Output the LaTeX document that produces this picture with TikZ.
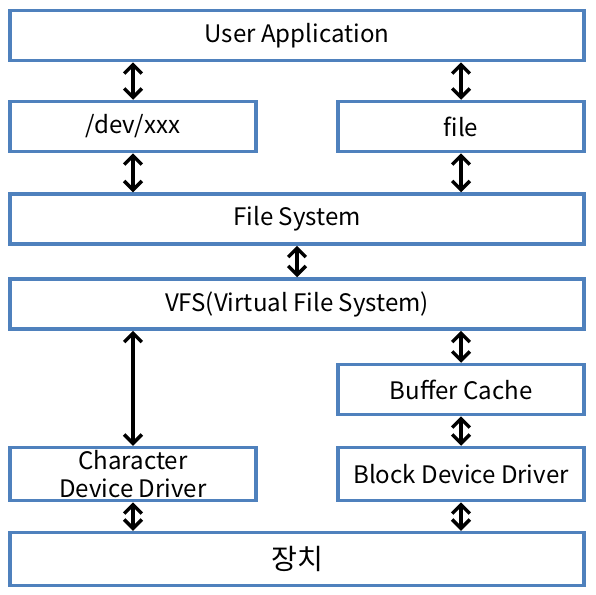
\documentclass[tikz,border=0pt]{standalone}
\usepackage{fontspec}
\setmainfont{Noto Sans CJK KR}
\usepackage{tikz}
\usetikzlibrary{arrows.meta,positioning}
\definecolor{boxblue}{HTML}{4F81BD}
\tikzset{
  layer/.style={draw=boxblue, line width=2pt, minimum height=1.0cm, inner sep=0pt, align=center, font=\fontsize{13.7}{16}\selectfont},
  wide/.style={layer, minimum width=11.48cm},
  half/.style={layer, minimum width=4.92cm},
  dbl/.style={{Straight Barb[length=5pt,width=10pt,line width=2pt]}-{Straight Barb[length=5pt,width=10pt,line width=2pt]}, line width=2pt, black}
}
\begin{document}
\begin{tikzpicture}
\useasboundingbox (0cm,0cm) rectangle (11.92cm,-11.88cm);
\node[wide] (app) at (5.94cm,-0.71cm) {User Application};
\node[half] (dev) at (2.66cm,-2.53cm) {/dev/xxx};
\node[half] (file) at (9.22cm,-2.53cm) {file};
\node[wide] (fs) at (5.94cm,-4.38cm) {File System};
\node[wide] (vfs) at (5.94cm,-6.08cm) {VFS(Virtual File System)};
\node[half] (cache) at (9.22cm,-7.79cm) {Buffer Cache};
\node[half, minimum height=1.06cm] (chr) at (2.66cm,-9.48cm) {Character\\Device Driver};
\node[half, minimum height=1.06cm] (blk) at (9.22cm,-9.48cm) {Block Device Driver};
\node[wide, minimum height=1.06cm] (hw) at (5.94cm,-11.18cm) {\fontsize{16}{18}\selectfont 장치};
\draw[dbl] (dev.north) -- (dev.north |- app.south);
\draw[dbl] (file.north) -- (file.north |- app.south);
\draw[dbl] (dev.south) -- (dev.south |- fs.north);
\draw[dbl] (file.south) -- (file.south |- fs.north);
\draw[dbl] (fs.south) -- (vfs.north);
\draw[dbl] (chr.north) -- (chr.north |- vfs.south);
\draw[dbl] (cache.north) -- (cache.north |- vfs.south);
\draw[dbl] (cache.south) -- (blk.north);
\draw[dbl] (chr.south) -- (chr.south |- hw.north);
\draw[dbl] (blk.south) -- (blk.south |- hw.north);
\end{tikzpicture}
\end{document}
